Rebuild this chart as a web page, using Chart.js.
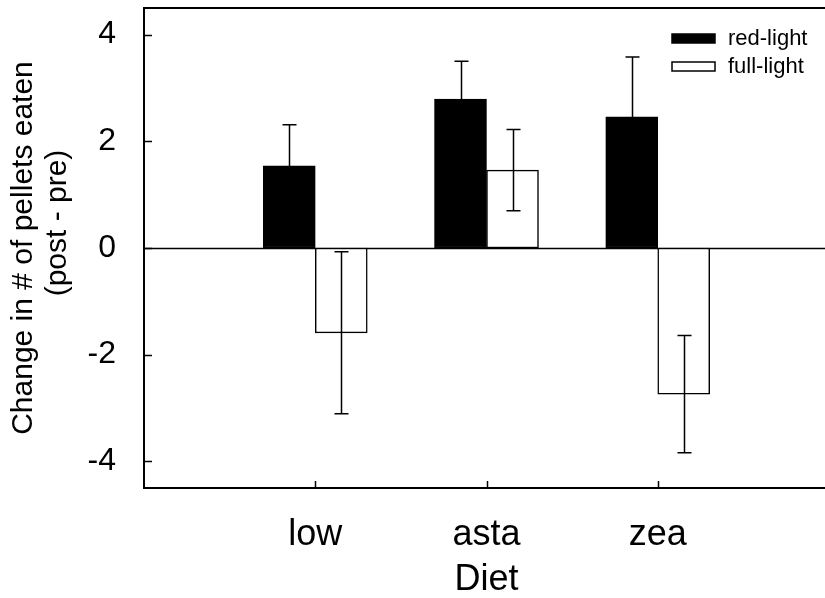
<!DOCTYPE html>
<html>
<head>
<meta charset="utf-8">
<script src="https://cdn.jsdelivr.net/npm/chart.js@4.4.1/dist/chart.umd.min.js"></script>
<style>
  html, body { margin: 0; padding: 0; background: #fff; overflow: hidden; }
  canvas { display: block; }
</style>
</head>
<body>
<canvas id="chart" width="840" height="598"></canvas>
<script>
    // Diet categories sit at x = 1, 2, 3 on a 0..4 axis
    const categories = ['low', 'asta', 'zea'];
    const seriesNames = ['red-light', 'full-light'];
    const redLight = [1.54, 2.79, 2.46];
    const redLightErr = [0.77, 0.71, 1.12];
    const fullLight = [-1.59, 1.46, -2.74];
    const fullLightErr = [1.52, 0.76, 1.10];
    const yTicks = [-4, -2, 0, 2, 4];

    const FONT = '"Liberation Sans", Arial, sans-serif';

    function toPoints(values) {
      return values.map((v, i) => ({ x: i + 1, y: v }));
    }

    // axes frame, inward ticks, zero line, error bars and legend
    const decorations = {
      id: 'decorations',
      beforeDatasetsDraw(chart) {
        const { ctx, chartArea: a, scales: { y } } = chart;
        const y0 = Math.round(y.getPixelForValue(0)) + 0.5;
        ctx.save();
        ctx.strokeStyle = '#000';
        ctx.lineWidth = 1.5;
        ctx.beginPath();
        ctx.moveTo(a.left, y0);
        ctx.lineTo(a.right, y0);
        ctx.stroke();
        ctx.restore();
      },
      afterDatasetsDraw(chart) {
        const { ctx, chartArea: a, scales: { x, y } } = chart;
        ctx.save();
        ctx.strokeStyle = '#000';
        ctx.lineWidth = 2;

        // frame
        ctx.beginPath();
        ctx.moveTo(a.right, a.top);
        ctx.lineTo(a.left, a.top);
        ctx.lineTo(a.left, a.bottom);
        ctx.lineTo(a.right, a.bottom);
        ctx.stroke();

        // inward ticks
        ctx.lineWidth = 1.5;
        yTicks.forEach(t => {
          const py = Math.round(y.getPixelForValue(t)) + 0.5;
          ctx.beginPath();
          ctx.moveTo(a.left, py);
          ctx.lineTo(a.left + 8, py);
          ctx.stroke();
        });
        categories.forEach((c, i) => {
          const px = Math.round(x.getPixelForValue(i + 1)) + 0.5;
          ctx.beginPath();
          ctx.moveTo(px, a.bottom);
          ctx.lineTo(px, a.bottom - 7);
          ctx.stroke();
        });

        // error bars
        const errs = [redLightErr, fullLightErr];
        chart.data.datasets.forEach((ds, di) => {
          const meta = chart.getDatasetMeta(di);
          meta.data.forEach((bar, j) => {
            const v = ds.data[j].y;
            const e = errs[di][j];
            const px = Math.round(bar.x) + 0.5;
            const top = y.getPixelForValue(v + e);
            const bot = y.getPixelForValue(v - e);
            ctx.beginPath();
            ctx.moveTo(px, top);
            ctx.lineTo(px, bot);
            ctx.moveTo(px - 7, top);
            ctx.lineTo(px + 7, top);
            ctx.moveTo(px - 7, bot);
            ctx.lineTo(px + 7, bot);
            ctx.stroke();
          });
        });

        // legend inside the plot, top right
        ctx.font = '22px ' + FONT;
        ctx.textBaseline = 'middle';
        ctx.textAlign = 'left';
        chart.data.datasets.forEach((ds, di) => {
          const cy = 38.5 + di * 28;
          ctx.fillStyle = ds.backgroundColor;
          ctx.fillRect(672, cy - 4.5, 43, 9);
          ctx.lineWidth = 1.5;
          ctx.strokeRect(672, cy - 4.5, 43, 9);
          ctx.fillStyle = '#000';
          ctx.fillText(ds.label, 728, cy);
        });
        ctx.restore();
      }
    };

    new Chart(document.getElementById('chart'), {
      type: 'bar',
      data: {
        datasets: [
          {
            label: seriesNames[0],
            data: toPoints(redLight),
            backgroundColor: '#000',
            borderColor: '#000',
            borderWidth: 1.5,
            borderSkipped: false
          },
          {
            label: seriesNames[1],
            data: toPoints(fullLight),
            backgroundColor: '#fff',
            borderColor: '#000',
            borderWidth: 1.5,
            borderSkipped: false
          }
        ]
      },
      options: {
        responsive: false,
        animation: false,
        barThickness: 52,
        layout: { padding: { top: 8, right: 11, left: 0, bottom: 0 } },
        plugins: {
          legend: { display: false },
          tooltip: { enabled: false }
        },
        scales: {
          x: {
            type: 'linear',
            min: 0,
            max: 4,
            offset: false,
            afterFit(scale) {
              scale.height = 110;
              scale.paddingLeft = 0;
              scale.paddingRight = 0;
            },
            afterBuildTicks(scale) {
              scale.ticks = categories.map((c, i) => ({ value: i + 1 }));
            },
            grid: { display: false, offset: false },
            border: { display: false },
            ticks: {
              padding: 17,
              color: '#000',
              font: { family: FONT, size: 36 },
              callback: v => categories[v - 1] || ''
            },
            title: {
              display: true,
              text: 'Diet',
              color: '#000',
              font: { family: FONT, size: 36, lineHeight: 1 },
              padding: { top: 0, bottom: 0 }
            }
          },
          y: {
            min: -4.5,
            max: 4.5,
            afterFit(scale) {
              scale.width = 144;
              scale.paddingTop = 0;
              scale.paddingBottom = 0;
            },
            afterBuildTicks(scale) {
              scale.ticks = yTicks.map(v => ({ value: v }));
            },
            grid: { display: false },
            border: { display: false },
            ticks: {
              padding: 20,
              color: '#000',
              font: { family: FONT, size: 32 }
            },
            title: {
              display: true,
              text: ['Change in # of pellets eaten', '      (post - pre)'],
              color: '#000',
              font: { family: FONT, size: 30, lineHeight: 1.15 },
              padding: { top: 6, bottom: 0 }
            }
          }
        }
      },
      plugins: [decorations]
    });
</script>
</body>
</html>
